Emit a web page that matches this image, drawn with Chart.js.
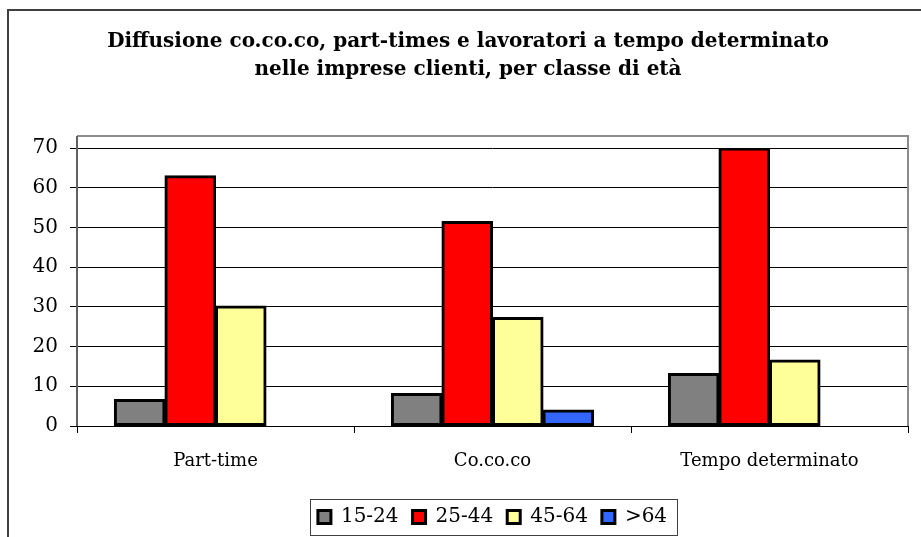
<!DOCTYPE html>
<html>
<head>
<meta charset="utf-8">
<script src="https://cdn.jsdelivr.net/npm/chart.js@4.4.1/dist/chart.umd.min.js"></script>
<style>
  html, body { margin: 0; padding: 0; background: #fff; }
  #wrap { width: 921px; height: 537px; }
</style>
</head>
<body>
<div id="wrap"><canvas id="c" width="921" height="537"></canvas></div>
<script>
// dati
const categories = ["Part-time", "Co.co.co", "Tempo determinato"];
const ageClasses = ["15-24", "25-44", "45-64", ">64"];
const age15_24 = [6.7, 8.2, 13.2];
const age25_44 = [63.0, 51.5, 70.0];
const age45_64 = [30.2, 27.3, 16.6];
const age64plus = [null, 4.0, null];
const yTicks = [0, 10, 20, 30, 40, 50, 60, 70];

const colors = ["#808080", "#FF0000", "#FFFF99", "#3366FF"];
const serif = "'DejaVu Serif', serif";

// cornice esterna, riquadro area del grafico e bordo della legenda
const framePlugin = {
    id: "frame",
    afterLayout(chart) {
        // legenda centrata sotto l'area del tracciato
        const a = chart.chartArea;
        chart.legend.left = a.left;
        chart.legend.right = a.right;
        // titolo un po' spostato a destra come nell'originale
        chart.titleBlock.left = 28;
        chart.titleBlock.right = a.right;
    },
    afterDraw(chart) {
        const ctx = chart.ctx;
        const a = chart.chartArea;
        ctx.save();
        // cornice esterna
        ctx.strokeStyle = "#404040";
        ctx.lineWidth = 2;
        ctx.beginPath();
        ctx.moveTo(8, 537);
        ctx.lineTo(8, 10);
        ctx.lineTo(921, 10);
        ctx.stroke();
        // riquadro grigio dell'area del tracciato
        ctx.strokeStyle = "#8c8c8c";
        ctx.lineWidth = 2;
        ctx.beginPath();
        ctx.moveTo(a.left, a.top - 12);
        ctx.lineTo(a.right, a.top - 12);
        ctx.lineTo(a.right, a.bottom);
        ctx.stroke();
        ctx.strokeStyle = "#606060";
        ctx.beginPath();
        ctx.moveTo(a.left, a.top - 12);
        ctx.lineTo(a.left, a.bottom);
        ctx.stroke();
        // bordo della legenda
        const boxes = chart.legend.legendHitBoxes;
        if (boxes && boxes.length) {
            const l = Math.min(...boxes.map(b => b.left)) - 8;
            const r = Math.max(...boxes.map(b => b.left + b.width)) + 10;
            const t = boxes[0].top - 8;
            const h = boxes[0].height + 16;
            ctx.strokeStyle = "#404040";
            ctx.lineWidth = 1;
            ctx.strokeRect(Math.round(l) + 0.5, Math.round(t) + 0.5, Math.round(r - l), Math.round(h));
        }
        ctx.restore();
    }
};

const datasets = [age15_24, age25_44, age45_64, age64plus].map((d, i) => ({
    label: ageClasses[i],
    data: d,
    backgroundColor: colors[i],
    borderColor: "#000",
    borderWidth: 3,
    borderSkipped: false,
    inflateAmount: 0.5,
    categoryPercentage: 0.73,
    barPercentage: 1.0
}));

new Chart(document.getElementById("c"), {
    type: "bar",
    data: { labels: categories, datasets: datasets },
    options: {
        responsive: false,
        animation: false,
        layout: { padding: { left: 0, right: 13, top: 10, bottom: 0 } },
        plugins: {
            title: {
                display: true,
                text: ["Diffusione co.co.co, part-times e lavoratori a tempo determinato",
                       "nelle imprese clienti, per classe di età"],
                color: "#000",
                font: { family: serif, size: 20, weight: "bold", lineHeight: 1.4 },
                padding: { top: 18, bottom: 64 }
            },
            legend: {
                position: "bottom",
                labels: {
                    color: "#000",
                    font: { family: serif, size: 20 },
                    boxWidth: 13,
                    boxHeight: 13,
                    padding: 14
                }
            },
            tooltip: { enabled: false }
        },
        scales: {
            x: {
                grid: { drawOnChartArea: false, drawTicks: true, tickLength: 7, color: "#000" },
                border: { color: "#000", width: 1 },
                ticks: { color: "#000", font: { family: serif, size: 18 }, padding: 18 },
                afterFit(scale) { scale.height = 67; }
            },
            y: {
                min: 0,
                max: 70,
                afterBuildTicks(scale) { scale.ticks = yTicks.map(v => ({ value: v })); },
                grid: { color: "#000", lineWidth: 1, tickLength: 7 },
                border: { display: false },
                ticks: { color: "#000", font: { family: serif, size: 20 }, padding: 12 },
                afterFit(scale) { scale.width = 77; }
            }
        }
    },
    plugins: [framePlugin]
});
</script>
</body>
</html>
